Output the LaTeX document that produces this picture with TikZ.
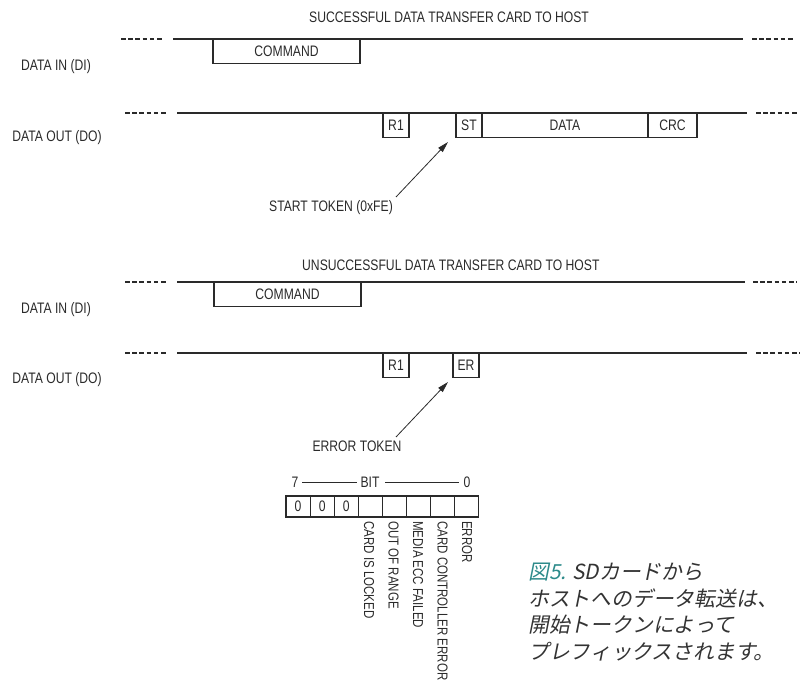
\documentclass[tikz,border=0pt]{standalone}
\usepackage{fontspec}
\setmainfont[FakeStretch=0.8]{Liberation Sans}
\newfontfamily\jpfont[FakeSlant=0.2]{Noto Sans CJK JP}
\usetikzlibrary{arrows.meta}
\definecolor{ink}{HTML}{2A2A2A}
\definecolor{capink}{HTML}{333333}
\definecolor{teal5}{HTML}{2E8B8B}
\tikzset{
  lbl/.style={font=\fontsize{15.2}{17}\selectfont, text=ink, inner sep=0pt},
  box/.style={draw=ink, line width=1.1pt, inner sep=0pt, outer sep=0pt, font=\fontsize{15.2}{17}\selectfont, text=ink, anchor=north west, minimum height=24.5},
  wire/.style={draw=ink, line width=1.2pt},
  dwire/.style={draw=ink, line width=1.2pt, dash pattern=on 4.5pt off 2.7pt},
  ptr/.style={draw=ink, line width=0.8pt, -{Triangle[length=11pt,width=6pt]}},
  vlbl/.style={lbl, font=\fontsize{14.4}{16}\selectfont, rotate=-90, anchor=west},
  bitbox/.style={draw=ink, line width=1.1pt, inner sep=0pt, outer sep=0pt, minimum width=24.1, minimum height=21, anchor=north west, font=\fontsize{15.2}{17}\selectfont, text=ink},
  captext/.style={font=\jpfont\fontsize{20.8}{26.5}\selectfont, text=capink, align=left, anchor=north west, inner sep=0pt}
}
\begin{document}
\begin{tikzpicture}[x=1pt,y=-1pt]
\useasboundingbox (0,0) rectangle (806,684);
% ---- successful transfer ----
\node[lbl, anchor=west] (t1) at (309,17) {SUCCESSFUL DATA TRANSFER CARD TO HOST};
\node[lbl] (di1) at (56,67) {DATA IN (DI)};
\node[lbl] (do1) at (57,138) {DATA OUT (DO)};
\coordinate (a1) at (121,39); \coordinate (a2) at (163,39);
\coordinate (a3) at (173,39); \coordinate (a4) at (743,39);
\coordinate (a5) at (752,39); \coordinate (a6) at (795,39);
\draw[dwire] (a1) -- (a2);
\draw[wire] (a3) -- (a4);
\draw[dwire] (a5) -- (a6);
\coordinate (b1) at (125,113); \coordinate (b2) at (168,113);
\coordinate (b3) at (177,113); \coordinate (b4) at (747,113);
\coordinate (b5) at (756,113); \coordinate (b6) at (798,113);
\draw[dwire] (b1) -- (b2);
\draw[wire] (b3) -- (b4);
\draw[dwire] (b5) -- (b6);
\node[box, minimum width=147] (cmd1) at (213,39) {COMMAND};
\node[box, minimum width=26] (r1a) at (383,113) {R1};
\node[box, minimum width=26] (st) at (456,113) {ST};
\node[box, minimum width=166] (data) at (482,113) {DATA};
\node[box, minimum width=49] (crc) at (648,113) {CRC};
\node[lbl] (sttok) at (331,208) {START TOKEN (0xFE)};
\coordinate (sttip) at (448,142);
\coordinate (sttail) at (396,197);
\draw[ptr] (sttail) -- (sttip);
% ---- unsuccessful transfer ----
\node[lbl, anchor=west] (t2) at (302,265) {UNSUCCESSFUL DATA TRANSFER CARD TO HOST};
\node[lbl] (di2) at (56,310) {DATA IN (DI)};
\node[lbl] (do2) at (57,380) {DATA OUT (DO)};
\coordinate (c1) at (125,282); \coordinate (c2) at (168,282);
\coordinate (c3) at (177,282); \coordinate (c4) at (745,282);
\coordinate (c5) at (753,282); \coordinate (c6) at (797,282);
\draw[dwire] (c1) -- (c2);
\draw[wire] (c3) -- (c4);
\draw[dwire] (c5) -- (c6);
\coordinate (d1) at (125,353); \coordinate (d2) at (168,353);
\coordinate (d3) at (177,353); \coordinate (d4) at (747,353);
\coordinate (d5) at (756,353); \coordinate (d6) at (800,353);
\draw[dwire] (d1) -- (d2);
\draw[wire] (d3) -- (d4);
\draw[dwire] (d5) -- (d6);
\node[box, minimum width=147] (cmd2) at (214,282) {COMMAND};
\node[box, minimum width=26] (r1b) at (383,353) {R1};
\node[box, minimum width=26] (er) at (453,353) {ER};
\node[lbl] (ertok) at (357,446) {ERROR TOKEN};
\coordinate (ertip) at (448,382);
\coordinate (ertail) at (396,437);
\draw[ptr] (ertail) -- (ertip);
% ---- bit field ----
\node[lbl] (b7lbl) at (295,482) {7};
\node[lbl] (bitlbl) at (370,482) {BIT};
\node[lbl] (b0lbl) at (467,482) {0};
\coordinate (h1) at (302,482); \coordinate (h2) at (357,482);
\coordinate (h3) at (385,482); \coordinate (h4) at (459,482);
\draw[ink, line width=0.9pt] (h1) -- (h2);
\draw[ink, line width=0.9pt] (h3) -- (h4);
\node[bitbox] (bb7) at (286,496) {0};
\node[bitbox] (bb6) at (310.1,496) {0};
\node[bitbox] (bb5) at (334.2,496) {0};
\node[bitbox] (bb4) at (358.3,496) {};
\node[bitbox] (bb3) at (382.4,496) {};
\node[bitbox] (bb2) at (406.5,496) {};
\node[bitbox] (bb1) at (430.6,496) {};
\node[bitbox] (bb0) at (454.7,496) {};
\node[vlbl] (v4) at (369,521) {CARD IS LOCKED};
\node[vlbl] (v3) at (393.5,521) {OUT OF RANGE};
\node[vlbl] (v2) at (418,521) {MEDIA ECC FAILED};
\node[vlbl] (v1) at (442.5,521) {CARD CONTROLLER ERROR};
\node[vlbl] (v0) at (467,521) {ERROR};
% ---- caption ----
\node[captext] (caption) at (528,563) {{\color{teal5}図5.} SDカードから\\ホストへのデータ転送は、\\開始トークンによって\\プレフィックスされます。};
\end{tikzpicture}
\end{document}
